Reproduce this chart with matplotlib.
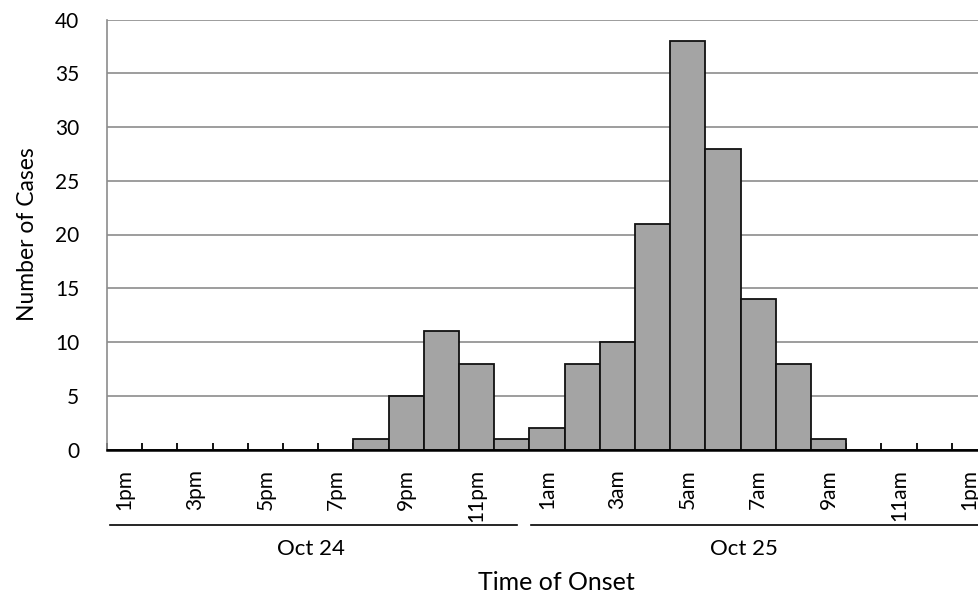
import numpy as np
import matplotlib.pyplot as plt
import matplotlib.transforms as mtransforms

plt.rcParams['font.family'] = ['Lato', 'DejaVu Sans']

# hourly slots, 1pm Oct 24 -> 1pm Oct 25
hours = ['1pm', '2pm', '3pm', '4pm', '5pm', '6pm', '7pm', '8pm', '9pm', '10pm',
         '11pm', '12am', '1am', '2am', '3am', '4am', '5am', '6am', '7am', '8am',
         '9am', '10am', '11am', '12pm', '1pm']
cases = [0, 0, 0, 0, 0, 0, 0, 1, 5, 11, 8, 1, 2, 8, 10, 21, 38, 28, 14, 8,
         1, 0, 0, 0, 0]
days = ['Oct 24', 'Oct 25']

fig = plt.figure(figsize=(9.79, 5.93), dpi=100)
ax = fig.add_axes([107/979, 143.5/593, 880/979, 430/593])

x = np.arange(len(hours))
ax.bar(x, cases, width=1.0, color='#a4a4a4', edgecolor='#111111', linewidth=1.3,
       zorder=3)

ax.set_xlim(-0.5, len(hours) - 0.5)
ax.set_ylim(0, 40)
ax.set_yticks(np.arange(0, 41, 5))
ax.yaxis.grid(True, color='#8c8c8c', linewidth=1.2)
ax.set_axisbelow(True)

# labels on every other hour, tick marks between slots
ax.set_xticks(x[::2])
ax.set_xticklabels(hours[::2], rotation=90, fontsize=15, va='top')
ax.set_xticks(np.arange(-0.5, len(hours), 1), minor=True)
ax.tick_params(axis='x', which='major', length=0, pad=14)
ax.tick_params(axis='x', which='minor', direction='in', length=5, width=1.3,
               color='black')
ax.tick_params(axis='y', length=0, pad=20, labelsize=15)

for s in ['top', 'right']:
    ax.spines[s].set_visible(False)
ax.spines['left'].set_color('#8c8c8c')
ax.spines['left'].set_linewidth(1.2)
ax.spines['bottom'].set_color('black')
ax.spines['bottom'].set_linewidth(1.8)
ax.spines['bottom'].set_zorder(4)

ax.set_ylabel('Number of Cases', fontsize=16.5, labelpad=12)

# day grouping under the hour labels
trans = mtransforms.blended_transform_factory(ax.transData, ax.transAxes)
spans = [(-0.42, 11.15), (11.55, 24.5)]
centers = [5.3, 17.6]
for (a, b), c, d in zip(spans, centers, days):
    ax.plot([a, b], [-0.1756, -0.1756], color='black', lw=1.2,
            transform=trans, clip_on=False)
    ax.text(c, -0.232, d, transform=trans, ha='center', va='center',
            fontsize=16)

fig.text(556/979, 1 - 583/593, 'Time of Onset', ha='center', va='center',
         fontsize=18)

fig.savefig('out.png', dpi=100)
